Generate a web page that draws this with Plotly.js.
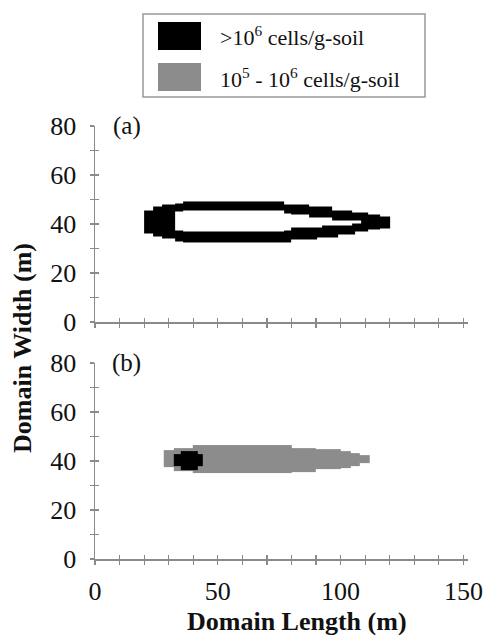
<!DOCTYPE html>
<html>
<head>
<meta charset="utf-8">
<script src="https://cdn.plot.ly/plotly-3.0.1.min.js"></script>
<style>html,body{margin:0;padding:0;background:#fff;}#chart{width:489px;height:635px;}</style>
</head>
<body>
<div id="chart"></div>
<script>
// ---- Data ----
// Panel (a): >10^6 cells/g-soil ring (outer band with an inner hole)
const aEdges     = [20, 23.5, 27.5, 32.5, 36, 77, 80, 87, 90.5, 92.5, 96.5, 99, 104.5, 106, 108.5, 111.3, 116, 120.3];
const aOuterLow  = [36, 35, 34, 33, 32.5, 32.5, 33.5, 33.5, 34.6, 34.6, 34.6, 35.9, 35.9, 36.9, 36.9, 37.8, 38.3];
const aOuterHigh = [45.5, 47, 48, 48.5, 49.2, 48, 48, 47, 47, 47, 45.7, 45.7, 44.6, 44.6, 44.6, 43.7, 43.1];
const aInnerLow  = [null, null, null, 37.5, 37, 37.5, 38.6, 38.6, 38.6, 39.6, 39.6, 39.6, 40.4, 40.4, null, null, null];
const aInnerHigh = [null, null, null, 45, 45.5, 44.5, 43.7, 42.7, 42.7, 42.7, 41.6, 41.6, 41.6, 41.6, null, null, null];

// Panel (b): 10^5 - 10^6 cells/g-soil plume (gray)
const bGrayEdges = [28, 32, 40, 80, 90, 100, 104, 108, 112];
const bGrayLow   = [37.7, 36, 35, 35.6, 36.6, 37.3, 38.1, 39.1];
const bGrayHigh  = [44.4, 45.4, 46.5, 45.4, 44.8, 44.0, 43.1, 42.4];
// Panel (b): >10^6 cells/g-soil core (black)
const bBlackEdges = [32, 35, 42, 44];
const bBlackLow   = [38, 36.5, 38];
const bBlackHigh  = [43, 44.2, 43];

// Classes
const LEVEL_MID = 1;  // 10^5 - 10^6
const LEVEL_HIGH = 2; // >10^6
const legendLabels = [">10<sup>6</sup> cells/g-soil", "10<sup>5</sup> - 10<sup>6</sup> cells/g-soil"];

const xTickVals = [0, 50, 100, 150];
const yTickVals = [0, 20, 40, 60, 80];
const xMinorVals = [0,10,20,30,40,50,60,70,80,90,100,110,120,130,140,150];
const yMinorVals = [0,10,20,30,40,50,60,70,80];

// ---- Styling ----
const BLACK = '#000000';
const GRAY = '#8c8c8c';
const AXIS = '#8a8a8a';
const FONT = '"Liberation Serif", "Times New Roman", serif';

function buildGrid(layers) {
  const xs = new Set(), ys = new Set();
  layers.forEach(L => {
    L.edges.forEach(v => xs.add(v));
    L.low.forEach(v => ys.add(v)); L.high.forEach(v => ys.add(v));
    if (L.holeLow) { L.holeLow.forEach(v => { if (v != null) ys.add(v); }); L.holeHigh.forEach(v => { if (v != null) ys.add(v); }); }
  });
  const xe = Array.from(xs).sort((a, b) => a - b);
  const ye = Array.from(ys).sort((a, b) => a - b);
  const z = [];
  for (let j = 0; j < ye.length - 1; j++) {
    const cy = (ye[j] + ye[j + 1]) / 2;
    const row = [];
    for (let i = 0; i < xe.length - 1; i++) {
      const cx = (xe[i] + xe[i + 1]) / 2;
      let val = null;
      layers.forEach(L => {
        for (let k = 0; k < L.edges.length - 1; k++) {
          if (cx >= L.edges[k] && cx < L.edges[k + 1]) {
            let inside = cy >= L.low[k] && cy < L.high[k];
            if (inside && L.holeLow && L.holeLow[k] != null && cy >= L.holeLow[k] && cy < L.holeHigh[k]) inside = false;
            if (inside) val = L.value;
          }
        }
      });
      row.push(val);
    }
    z.push(row);
  }
  return {x: xe, y: ye, z: z};
}

const gridA = buildGrid([{edges: aEdges, low: aOuterLow, high: aOuterHigh, holeLow: aInnerLow, holeHigh: aInnerHigh, value: LEVEL_HIGH}]);
const gridB = buildGrid([
  {edges: bGrayEdges, low: bGrayLow, high: bGrayHigh, value: LEVEL_MID},
  {edges: bBlackEdges, low: bBlackLow, high: bBlackHigh, value: LEVEL_HIGH}
]);

const cs = [[0, GRAY], [0.5, GRAY], [0.5, BLACK], [1, BLACK]];
function hm(g, xa, ya) {
  return {type: 'heatmap', x: g.x, y: g.y, z: g.z, xaxis: xa, yaxis: ya, colorscale: cs,
    zmin: LEVEL_MID, zmax: LEVEL_HIGH, showscale: false, zsmooth: false, hoverinfo: 'skip'};
}
const dummy = (xa, ya) => ({type: 'scatter', x: [], y: [], xaxis: xa, yaxis: ya, showlegend: false, hoverinfo: 'skip'});

const data = [hm(gridA, 'x', 'y'), hm(gridB, 'x2', 'y2'),
  dummy('x3', 'y'), dummy('x', 'y3'), dummy('x4', 'y2'), dummy('x2', 'y4')];

const W = 489, H = 635;
const xDom = [95 / W, 468.3 / W];
const yDomA = [(H - 322) / H, (H - 126) / H];
const yDomB = [(H - 559) / H, (H - 363) / H];
const xR = [0, 152], yR = [0, 80];

function minorOut(vals) {
  return {tickmode: 'array', tickvals: vals, ticks: 'outside', ticklen: 4, tickwidth: 1.2, tickcolor: AXIS, showgrid: false};
}
function xAxisBase(anchor, labels) {
  return {domain: xDom, range: xR, anchor: anchor, showgrid: false, zeroline: false,
    showline: true, linecolor: AXIS, linewidth: 1.5,
    tickmode: 'array', tickvals: xTickVals, ticktext: xTickVals.map(String),
    ticks: 'outside', ticklen: 4, tickwidth: 1.2, tickcolor: AXIS, ticklabelstandoff: 4,
    minor: minorOut(xMinorVals),
    showticklabels: !!labels, tickfont: {family: FONT, size: 26, color: '#111'}, fixedrange: true};
}
function yAxisBase(dom, anchor) {
  return {domain: dom, range: yR, anchor: anchor, showgrid: false, zeroline: false,
    showline: true, linecolor: AXIS, linewidth: 1.5,
    tickmode: 'array', tickvals: yTickVals, ticktext: yTickVals.map(String),
    ticks: 'outside', ticklen: 4, tickwidth: 1.2, tickcolor: AXIS, ticklabelstandoff: 8,
    minor: minorOut(yMinorVals),
    tickfont: {family: FONT, size: 26, color: '#111'}, fixedrange: true};
}
function overlayX(over, anchor) {
  return {overlaying: over, anchor: anchor, range: xR, domain: xDom, showgrid: false, zeroline: false, showline: false,
    tickmode: 'array', tickvals: xMinorVals, ticks: 'inside', ticklen: 4, tickwidth: 1.2, tickcolor: AXIS,
    showticklabels: false, fixedrange: true};
}
function overlayY(over, anchor, dom) {
  return {overlaying: over, anchor: anchor, range: yR, domain: dom, showgrid: false, zeroline: false, showline: false,
    tickmode: 'array', tickvals: yMinorVals, ticks: 'inside', ticklen: 4, tickwidth: 1.2, tickcolor: AXIS,
    showticklabels: false, fixedrange: true};
}

const layout = {
  width: W, height: H, margin: {l: 0, r: 0, t: 0, b: 0},
  paper_bgcolor: '#ffffff', plot_bgcolor: 'rgba(0,0,0,0)', showlegend: false,
  font: {family: FONT, color: '#111'},
  xaxis: xAxisBase('y', false),
  yaxis: yAxisBase(yDomA, 'x'),
  xaxis2: xAxisBase('y2', true),
  yaxis2: yAxisBase(yDomB, 'x2'),
  xaxis3: overlayX('x', 'y'),
  yaxis3: overlayY('y', 'x', yDomA),
  xaxis4: overlayX('x2', 'y2'),
  yaxis4: overlayY('y2', 'x2', yDomB),
  shapes: [
    {type: 'rect', xref: 'paper', yref: 'paper', x0: 143 / W, x1: 425 / W, y0: (H - 97) / H, y1: (H - 14) / H,
      line: {color: '#999999', width: 1.5}, fillcolor: 'rgba(0,0,0,0)'},
    {type: 'rect', xref: 'paper', yref: 'paper', x0: 158 / W, x1: 201 / W, y0: (H - 50) / H, y1: (H - 22) / H,
      line: {width: 0}, fillcolor: BLACK},
    {type: 'rect', xref: 'paper', yref: 'paper', x0: 158 / W, x1: 201 / W, y0: (H - 91) / H, y1: (H - 63) / H,
      line: {width: 0}, fillcolor: GRAY}
  ],
  annotations: [
    {text: legendLabels[0], xref: 'paper', yref: 'paper', x: 218 / W, y: (H - 36.5) / H, xanchor: 'left', yanchor: 'middle',
      showarrow: false, font: {family: FONT, size: 22, color: '#111'}},
    {text: legendLabels[1], xref: 'paper', yref: 'paper', x: 218 / W, y: (H - 77.5) / H, xanchor: 'left', yanchor: 'middle',
      showarrow: false, font: {family: FONT, size: 22, color: '#111'}},
    {text: '(a)', xref: 'x', yref: 'y', x: 13, y: 80, xanchor: 'center', yanchor: 'middle', showarrow: false,
      font: {family: FONT, size: 25, color: '#111'}},
    {text: '(b)', xref: 'x2', yref: 'y2', x: 13, y: 80, xanchor: 'center', yanchor: 'middle', showarrow: false,
      font: {family: FONT, size: 25, color: '#111'}},
    {text: '<b>Domain Width (m)</b>', xref: 'paper', yref: 'paper', x: 22 / W, y: (H - 348) / H, textangle: -90,
      xanchor: 'center', yanchor: 'middle', showarrow: false, font: {family: FONT, size: 26, color: '#111'}},
    {text: '<b>Domain Length (m)</b>', xref: 'paper', yref: 'paper', x: 297 / W, y: (H - 621) / H,
      xanchor: 'center', yanchor: 'middle', showarrow: false, font: {family: FONT, size: 26, color: '#111'}}
  ]
};

Plotly.newPlot('chart', data, layout, {staticPlot: true, displayModeBar: false});
</script>
</body>
</html>
